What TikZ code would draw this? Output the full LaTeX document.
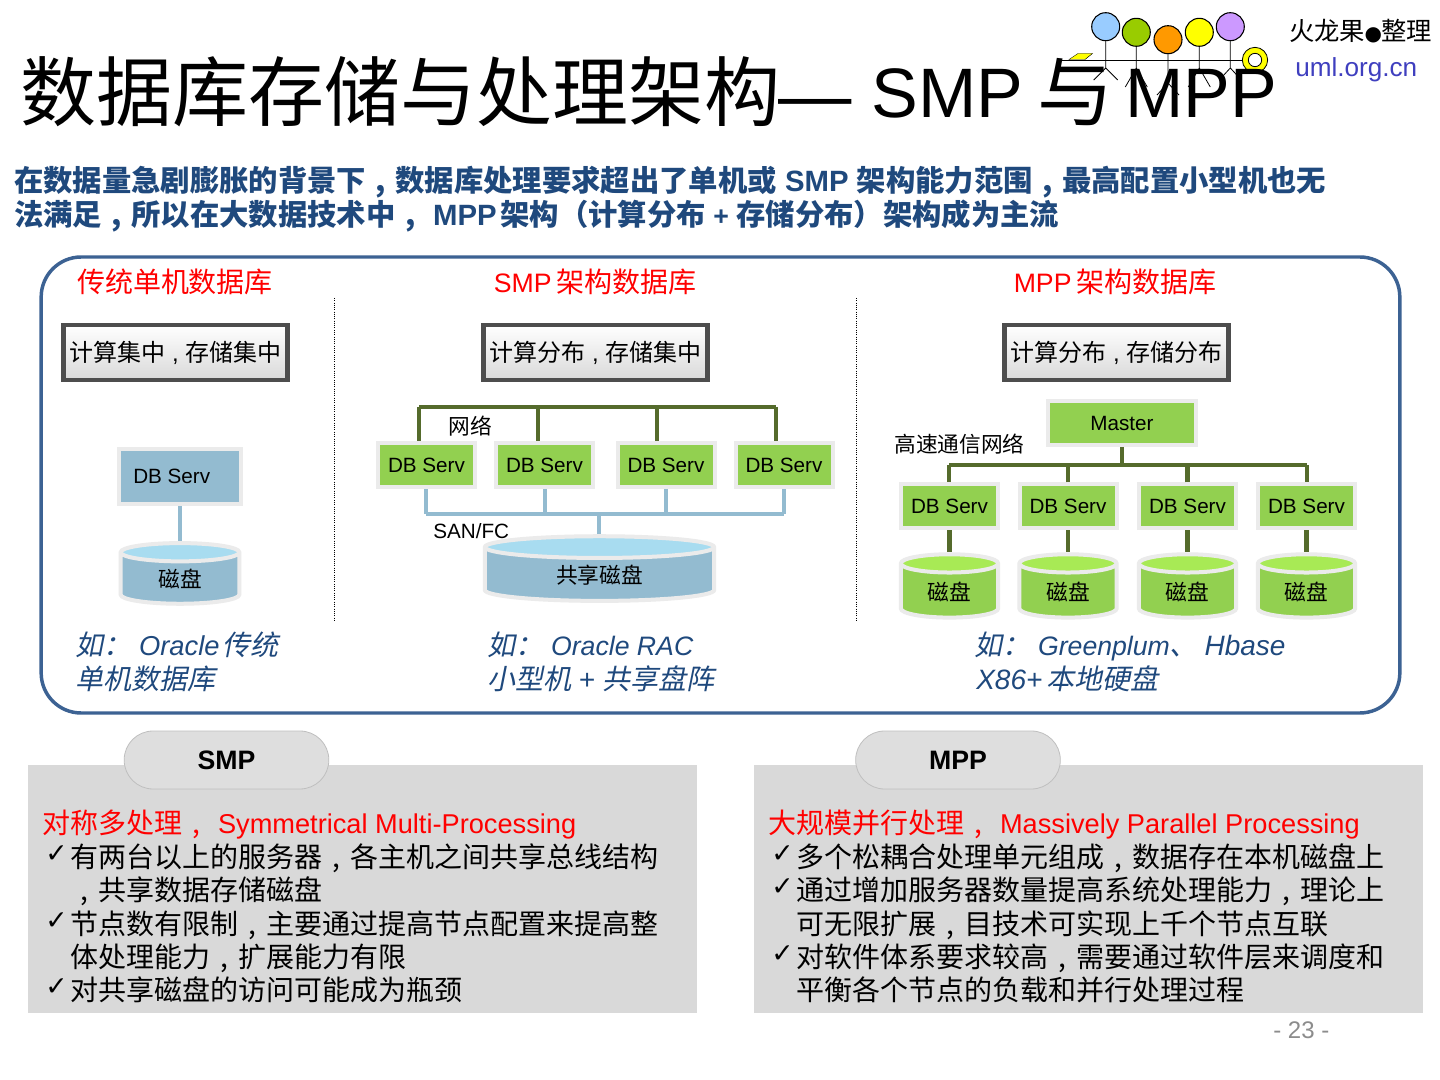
\documentclass[tikz,border=0pt]{standalone}
\usepackage{fontspec}
\usetikzlibrary{shapes.geometric}
\setmainfont{Liberation Sans}
\newfontfamily\cjkfont{Noto Sans CJK SC}
\newfontfamily\cjkslant[FakeSlant=0.2]{Noto Sans CJK SC}
\newfontfamily\symfont{DejaVu Sans}
\newcommand{\zh}[1]{{\cjkfont #1}}
\newcommand{\zhi}[1]{{\cjkslant #1}}
\newcommand{\zc}{\makebox[1em][c]{,}}
\newcommand{\zcolon}{\char"FF1A\relax}
\newcommand{\zlp}{\char"FF08\relax}
\newcommand{\zrp}{\char"FF09\relax}
\newcommand{\fs}[1]{\fontsize{#1pt}{#1pt}\selectfont}
\newcommand{\chk}{{\symfont\bfseries ✓}}
\definecolor{navy}{HTML}{1F497D}
\definecolor{panelblue}{HTML}{3C6293}
\definecolor{netgreen}{HTML}{556B2C}
\definecolor{srvgreen}{HTML}{92D050}
\definecolor{srvblue}{HTML}{93BBD0}
\definecolor{rim}{HTML}{EBEBEB}
\definecolor{topblue}{HTML}{A8DCF0}
\definecolor{topgreen}{HTML}{A8EA55}
\definecolor{boxedge}{HTML}{4D4D4D}
\definecolor{panelgray}{HTML}{D9D9D9}
\definecolor{umlblue}{HTML}{3F3FBF}
\tikzset{
  x=0.75pt,y=-0.75pt,
  lbl/.style={anchor=base west,inner sep=0pt},
  lblc/.style={anchor=center,inner sep=0pt},
  redhead/.style={anchor=base,inner sep=0pt,text=red,font=\fs{21}},
  modebox/.style={draw=boxedge,line width=3.4pt,top color=white,bottom color=panelgray,minimum width=168pt,minimum height=41.5pt,inner sep=0pt,font=\fs{18}},
  srv/.style={draw=rim,line width=3pt,fill=srvgreen,minimum width=72.75pt,minimum height=33pt,inner sep=0pt,font=\fs{15.5}},
  disk/.style={cylinder,shape border rotate=90,aspect=#1,draw=rim,line width=3pt,inner sep=0pt,cylinder uses custom fill,font=\fs{16.3}},
  gdisk/.style={disk=0.42,cylinder body fill=srvgreen,cylinder end fill=topgreen,minimum width=73pt,minimum height=47.5pt},
  netline/.style={draw=netgreen,line width=3.2pt},
  sanline/.style={draw=srvblue,line width=3pt},
  pill/.style={draw=black!25,line width=.6pt,fill=black!13,rounded corners=21.7pt,minimum width=153.5pt,minimum height=43.5pt,inner sep=0pt,font=\fs{20}\bfseries},
  graybox/.style={fill=panelgray,draw=none,minimum width=502pt,minimum height=186pt,inner sep=0pt},
  head/.style={circle,draw=black,line width=.8pt,minimum size=21pt,inner sep=0pt},
  stick/.style={draw=black,line width=.6pt},
  chkmark/.style={lbl,font=\fs{20}},
  body/.style={lbl,font=\fs{21}},
  redtxt/.style={lbl,font=\fs{21},text=red},
  ital/.style={lbl,font=\fs{21}\itshape,text=navy},
  sub/.style={lbl,font=\fs{22}\bfseries,text=navy}
}
\definecolor{hA}{HTML}{99CCFF}
\definecolor{hB}{HTML}{99CC00}
\definecolor{hC}{HTML}{FF9900}
\definecolor{hD}{HTML}{FFFF00}
\definecolor{hE}{HTML}{CC99FF}
\begin{document}
\begin{tikzpicture}
\useasboundingbox[fill=white] (0,0) rectangle (1440,1080);
% logo
\fill[hD,draw=black,line width=.3pt] (1069,59.5)--(1078,53.5)--(1092.5,53.5)--(1085,59.5)--cycle;
\node[head,fill=hA] (h1) at (1105.7,26.7) {};
\node[head,fill=hB] (h2) at (1136.3,32.3) {};
\node[head,fill=hC] (h3) at (1168,39.7) {};
\node[head,fill=hD] (h4) at (1199.3,32.3) {};
\node[head,fill=hE] (h5) at (1230.3,26.7) {};
\coordinate (barL) at (1060,60); \coordinate (barR) at (1245,60);
\draw[stick] (barL)--(barR);
\coordinate (b1) at (1105.7,68); \coordinate (b2) at (1136.3,68); \coordinate (b3) at (1168,83); \coordinate (b4) at (1199.3,68); \coordinate (b5) at (1230.3,68);
\draw[stick] (h1.south)--(b1) (b1)--++(-12,12) (b1)--++(12,12);
\draw[stick] (h2.south)--(b2) (b2)--++(-11,19) (b2)--++(11,19);
\draw[stick] (h3.south)--(b3) (b3)--++(-11,12) (b3)--++(11,12);
\draw[stick] (h4.south)--(b4) (b4)--++(-11,19) (b4)--++(11,19);
\draw[stick] (h5.south)--(b5) (b5)--++(-11,12) (b5)--++(11,12);
\node[circle,draw=black,line width=.6pt,fill=hD,minimum size=19pt,inner sep=0pt] (ringo) at (1255,60) {};
\node[circle,draw=black,line width=.6pt,fill=white,minimum size=10pt,inner sep=0pt] (ringi) at (1255,60) {};
% header
\node[lbl] (title) at (20,121) {\fs{57}\zh{数据库存储与处理架构}\kern-1pt{\fs{55}—}\raisebox{2.6pt}{\fs{52.5} SMP }\kern-3.75pt\zh{与}\kern-6pt\raisebox{2.6pt}{\fs{52.5} MPP}};
\node[lbl,font=\fs{19}] (who) at (1289,41) {\zh{火龙果}\makebox[12pt][c]{\symfont\fs{15}●}\zh{整理}};
\node[lbl,font=\fs{19.6},text=umlblue] (site) at (1295,77) {uml.org.cn};
\node[sub] (s1) at (14,192) {\zh{在数据量急剧膨胀的背景下\zc 数据库处理要求超出了单机或} SMP \zh{架构能力范围\zc 最高配置小型机也无}};
\node[sub] (s2) at (14,226) {\zh{法满足\zc 所以在大数据技术中\zc} MPP\kern3pt\zh{架构\zlp 计算分布}{\fs{20} + }\zh{存储分布\zrp 架构成为主流}};
% main panel
\node[draw=panelblue,line width=2.6pt,rounded corners=30pt,minimum width=1019pt,minimum height=342pt,inner sep=0pt] (panel) at (720.5,485) {};
\coordinate (d1t) at (334,298); \coordinate (d1b) at (334,620);
\coordinate (d2t) at (856,298); \coordinate (d2b) at (856,620);
\draw[densely dotted,line width=.7pt] (d1t)--(d1b) (d2t)--(d2b);
\node[redhead] (h-a) at (175,293) {\zh{传统单机数据库}};
\node[redhead] (h-b) at (595,293) {{\fs{20}SMP}\kern3.5pt\zh{架构数据库}};
\node[redhead] (h-c) at (1115,293) {{\fs{20}MPP}\kern3.5pt\zh{架构数据库}};
\node[modebox] (m-a) at (175.5,352.5) {\raisebox{-1.2pt}{\zh{计算集中} , \zh{存储集中}}};
\node[modebox] (m-b) at (595.5,352.5) {\raisebox{-1.2pt}{\zh{计算分布} , \zh{存储集中}}};
\node[modebox] (m-c) at (1116.5,352.5) {\raisebox{-1.2pt}{\zh{计算分布} , \zh{存储分布}}};
% column 1
\node[srv,fill=srvblue,minimum width=92pt,minimum height=41pt] (a-s) at (180,476.5) {};
\node[lbl,font=\fs{15.5}] (a-st) at (133,484) {DB Serv};
\node[disk=0.42,cylinder body fill=srvblue,cylinder end fill=topblue,minimum width=89pt,minimum height=45.5pt] (a-d) at (180,579) {\zh{磁盘}};
\draw[sanline] (a-s.south)--(a-s.south |- a-d.north);
% column 2
\node[srv] (b1) at (426.5,465) {DB Serv};
\node[srv] (b2) at (544.5,465) {DB Serv};
\node[srv] (b3) at (666,465) {DB Serv};
\node[srv] (b4) at (784,465) {DB Serv};
\coordinate (n1) at (419,407); \coordinate (n2) at (538,407); \coordinate (n3) at (657,407); \coordinate (n4) at (776,407);
\draw[netline] (n1)--(n4) (n1)--(n1 |- b1.north) (n2)--(n2 |- b2.north) (n3)--(n3 |- b3.north) (n4)--(n4 |- b4.north);
\node[lblc,font=\fs{16.3}] (b-net) at (470.5,426) {\zh{网络}};
\node[disk=0.25,cylinder body fill=srvblue,cylinder end fill=topblue,minimum width=172pt,minimum height=48.5pt] (b-d) at (599.5,575) {\zh{共享磁盘}};
\node[lbl,font=\fs{15.5}] (b-san) at (433,539) {SAN/FC};
\coordinate (sanL) at (426,514); \coordinate (sanR) at (784,514); \coordinate (sanM) at (599,514);
\draw[sanline] (sanL)--(sanR) (sanL)--(b1.south -| sanL) (b2.south)--(b2.south |- sanL) (b3.south)--(b3.south |- sanL) (sanR)--(b4.south -| sanR) (sanM)--(sanM |- b-d.north);
% column 3
\node[srv,minimum width=111pt] (master) at (1122,423) {Master};
\node[srv] (c1) at (949.5,506.5) {DB Serv};
\node[srv] (c2) at (1068,506.5) {DB Serv};
\node[srv] (c3) at (1187.5,506.5) {DB Serv};
\node[srv] (c4) at (1306.5,506.5) {DB Serv};
\node[gdisk] (e1) at (949.5,591.5) {\zh{磁盘}};
\node[gdisk] (e2) at (1068,591.5) {\zh{磁盘}};
\node[gdisk] (e3) at (1187.5,591.5) {\zh{磁盘}};
\node[gdisk] (e4) at (1306.5,591.5) {\zh{磁盘}};
\coordinate (busL) at (949,465); \coordinate (busR) at (1307,465);
\draw[netline] (busL)--(busR) (master.south)--(master.south |- busL) (busL)--(busL |- c1.north) (c2.north)--(c2.north |- busL) (c3.north)--(c3.north |- busL) (busR)--(busR |- c4.north);
\draw[netline] (c1.south)--(c1.south |- e1.north) (c2.south)--(c2.south |- e2.north) (c3.south)--(c3.south |- e3.north) (c4.south)--(c4.south |- e4.north);
\node[lblc,font=\fs{16.3}] (c-net) at (959.5,444) {\zh{高速通信网络}};
% examples
\node[ital] (x1a) at (75,655) {\zhi{如\zcolon} {\fs{20.5}Oracle}\kern2pt\zhi{传统}};
\node[ital] (x1b) at (75,689) {\zhi{单机数据库}};
\node[ital] (x2a) at (487,655) {\zhi{如\zcolon} {\fs{20}Oracle RAC}};
\node[ital] (x2b) at (487,689) {\zhi{小型机}\kern5.5pt+\kern5.5pt\zhi{共享盘阵}};
\node[ital] (x3a) at (974,655) {\zhi{如\zcolon} {\fs{20}Greenplum}\zhi{、}\kern5pt Hbase};
\node[ital] (x3b) at (976,689) {X86+\kern3pt\zhi{本地硬盘}};
% bottom panels
\node[graybox] (pl) at (362.5,889) {};
\node[graybox] (pr) at (1088.5,889) {};
\node[pill] (pl-t) at (226.5,760) {\raisebox{-1.5pt}{SMP}};
\node[pill] (pr-t) at (958,760) {\raisebox{-1.5pt}{MPP}};
\node[redtxt] (l0) at (42,833) {\zh{对称多处理\zc} {\fs{20.4}Symmetrical Multi-Processing}};
\node[chkmark] (lc1) at (45,862) {\chk};
\node[body] (l1) at (70,867) {\zh{有两台以上的服务器\zc 各主机之间共享总线结构}};
\node[body] (l2) at (70,900) {\zh{\zc 共享数据存储磁盘}};
\node[chkmark] (lc2) at (45,929) {\chk};
\node[body] (l3) at (70,934) {\zh{节点数有限制\zc 主要通过提高节点配置来提高整}};
\node[body] (l4) at (70,967) {\zh{体处理能力\zc 扩展能力有限}};
\node[chkmark] (lc3) at (45,995) {\chk};
\node[body] (l5) at (70,1000) {\zh{对共享磁盘的访问可能成为瓶颈}};
\node[redtxt] (r0) at (768,833) {\zh{大规模并行处理\zc} {\fs{20.4}Massively Parallel Processing}};
\node[chkmark] (rc1) at (771,862) {\chk};
\node[body] (r1) at (796,867) {\zh{多个松耦合处理单元组成\zc 数据存在本机磁盘上}};
\node[chkmark] (rc2) at (771,895) {\chk};
\node[body] (r2) at (796,900) {\zh{通过增加服务器数量提高系统处理能力\zc 理论上}};
\node[body] (r3) at (796,934) {\zh{可无限扩展\zc 目技术可实现上千个节点互联}};
\node[chkmark] (rc3) at (771,962) {\chk};
\node[body] (r4) at (796,967) {\zh{对软件体系要求较高\zc 需要通过软件层来调度和}};
\node[body] (r5) at (796,1000) {\zh{平衡各个节点的负载和并行处理过程}};
\node[lbl,font=\fs{18},text=black!45] (pg) at (1273,1038) {- 23 -};
\end{tikzpicture}
\end{document}
